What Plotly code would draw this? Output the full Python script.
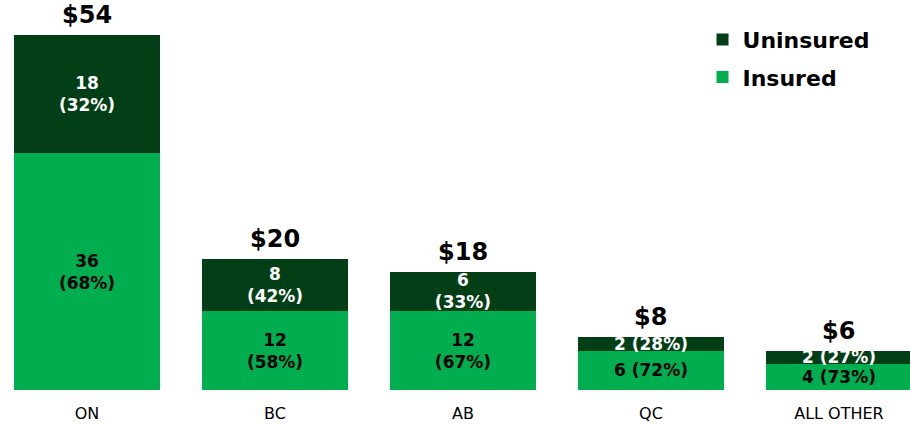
import plotly.graph_objects as go

categories = ["ON", "BC", "AB", "QC", "ALL OTHER"]
insured = [36, 12, 12, 6, 4]
uninsured = [18, 8, 6, 2, 2]
insured_labels = ["36<br>(68%)", "12<br>(58%)", "12<br>(67%)", "6 (72%)", "4 (73%)"]
uninsured_labels = ["18<br>(32%)", "8<br>(42%)", "6<br>(33%)", "2 (28%)", "2 (27%)"]
total_labels = ["$54", "$20", "$18", "$8", "$6"]

DARK = "#023F16"
LIGHT = "#00AE4F"
FONT = "DejaVu Sans"

fig = go.Figure()
fig.add_trace(go.Bar(
    x=categories, y=insured, name="Insured", marker_color=LIGHT,
    marker_line_width=0,
    text=insured_labels, textposition="inside", insidetextanchor="middle",
    textfont=dict(family=FONT, size=17, color="black", weight="bold"),
    legendgroup="ins", legendrank=2, hoverinfo="skip",
))
fig.add_trace(go.Bar(
    x=categories, y=uninsured, name="Uninsured", marker_color=DARK,
    marker_line_width=0,
    text=uninsured_labels, textposition="inside", insidetextanchor="middle",
    textfont=dict(family=FONT, size=17, color="white", weight="bold"),
    legendgroup="unins", legendrank=1, hoverinfo="skip",
))

totals = [a + b for a, b in zip(insured, uninsured)]
for c, t, lab in zip(categories, totals, total_labels):
    fig.add_annotation(x=c, y=t, text=lab, showarrow=False, yanchor="bottom",
                       yshift=4, font=dict(family=FONT, size=24, color="black", weight="bold"))

fig.update_layout(
    width=910, height=424,
    margin=dict(l=0, r=0, t=0, b=34),
    barmode="stack", bargap=0.223,
    plot_bgcolor="white", paper_bgcolor="white",
    uniformtext=dict(minsize=17, mode="show"),
    showlegend=True,
    legend=dict(x=0.772, y=0.952, xanchor="left", yanchor="top",
                traceorder="grouped", tracegroupgap=6,
                font=dict(family=FONT, size=22, color="black", weight="bold"),
                bgcolor="rgba(0,0,0,0)", itemwidth=30),
    xaxis=dict(range=[-0.4628, 4.378], showgrid=False, showline=False, ticks="",
               tickfont=dict(family=FONT, size=16, color="black"), ticklabelstandoff=12,
               fixedrange=True),
    yaxis=dict(range=[0, 59.36], visible=False, fixedrange=True),
)

fig.write_html("out.html", config={"displayModeBar": False},
               post_script="document.body.style.margin='0';")
